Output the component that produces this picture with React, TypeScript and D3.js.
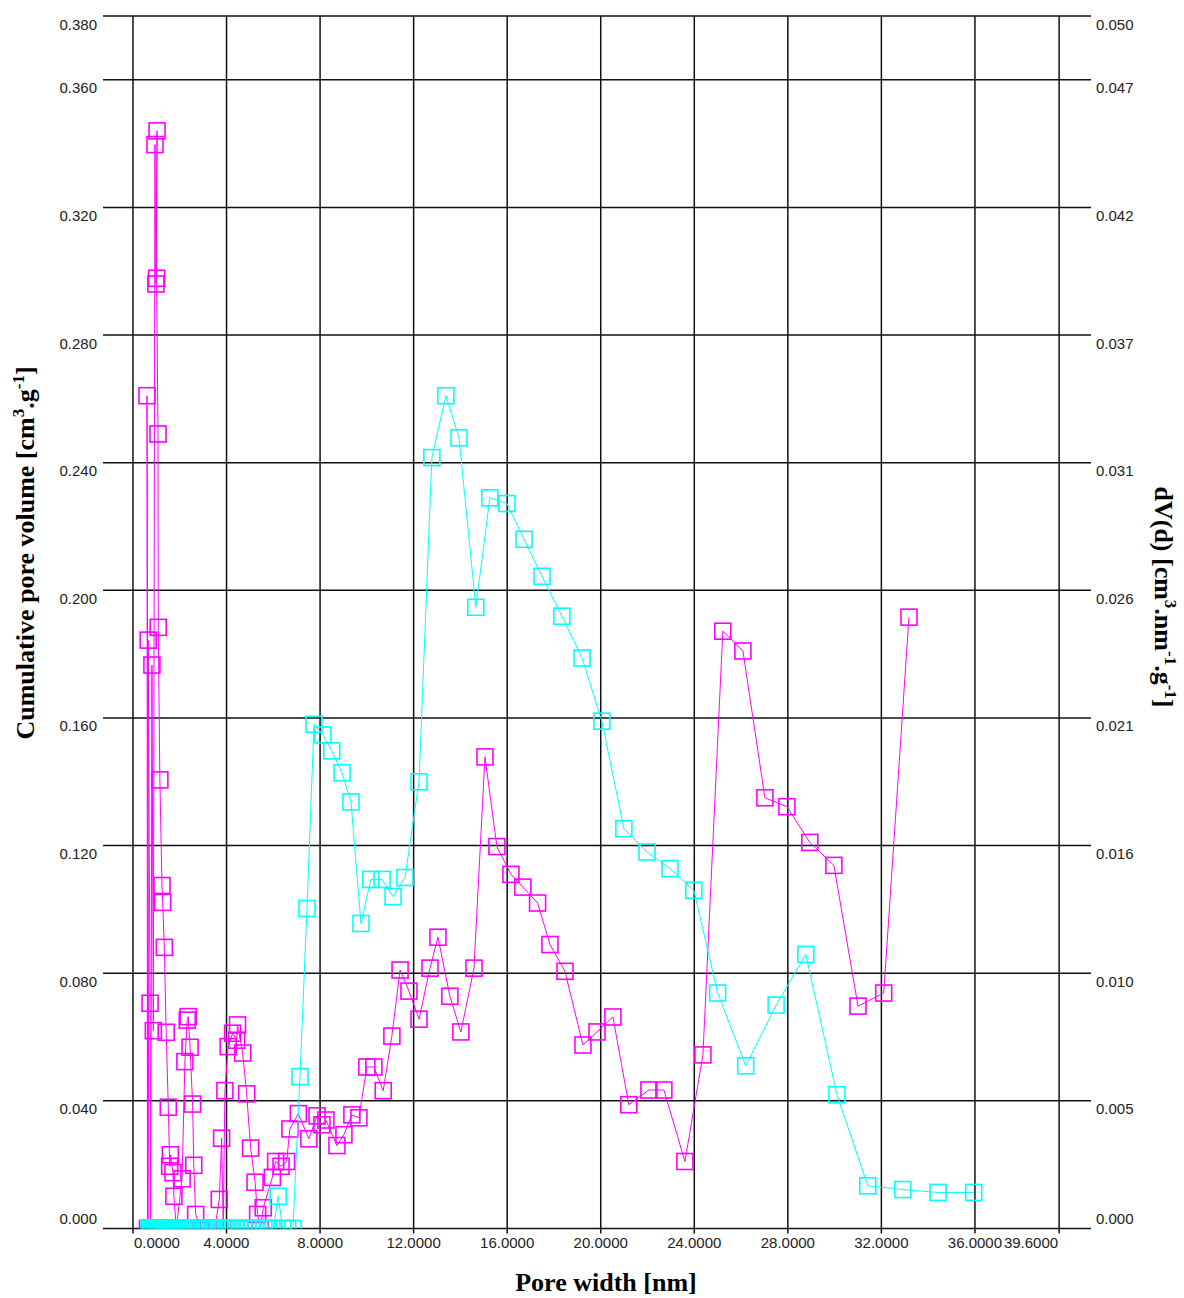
import React from 'react';
import * as d3 from 'd3';

// ---------- data ----------
const xTickValues = [0, 4, 8, 12, 16, 20, 24, 28, 32, 36, 39.6];
const xTickLabels = ['0.0000', '4.0000', '8.0000', '12.0000', '16.0000', '20.0000', '24.0000', '28.0000', '32.0000', '36.0000', '39.6000'];
const yTickValues = [0, 0.04, 0.08, 0.12, 0.16, 0.2, 0.24, 0.28, 0.32, 0.36, 0.38];
const yLeftLabels = ['0.000', '0.040', '0.080', '0.120', '0.160', '0.200', '0.240', '0.280', '0.320', '0.360', '0.380'];
const yRightLabels = ['0.000', '0.005', '0.010', '0.016', '0.021', '0.026', '0.031', '0.037', '0.042', '0.047', '0.050'];

// magenta series (pore width nm, value in left-axis units)
const magentaX = [
  0.68, 0.60, 0.62, 0.65, 0.73, 0.76, 0.81, 0.87, 0.94, 0.98, 1.03, 1.01, 1.07, 1.08, 1.15, 1.24, 1.27, 1.34, 1.42, 1.51,
  1.57, 1.60, 1.71, 1.75, 1.85, 2.10, 2.22, 2.32, 2.36, 2.44, 2.55, 2.60, 2.68, 2.90, 3.20, 3.50, 3.69, 3.79, 3.86, 3.93,
  4.07, 4.26, 4.43, 4.47, 4.69, 4.86, 5.03, 5.22, 5.33, 5.45, 5.57, 5.96, 6.10, 6.33, 6.57, 6.71, 7.07, 7.52, 7.87, 8.08,
  8.25, 8.72, 9.02, 9.36, 9.66, 10.0, 10.3, 10.7, 11.07, 11.42, 11.8, 12.23, 12.7, 13.04, 13.55, 14.02, 14.58, 15.05, 15.56, 16.16,
  16.67, 17.3, 17.83, 18.47, 19.24, 19.84, 20.52, 21.2, 22.06, 22.7, 23.6, 24.37, 25.22, 26.08, 27.02, 27.96, 28.94, 29.97, 31.0, 32.1,
  33.18,
];
const magentaY = [
  0, 0.261, 0, 0.1844, 0.0706, 0, 0.1766, 0.062, 0.3397, 0.296, 0.344, 0.2978, 0.249, 0.1884, 0.1406, 0.1075, 0.1022, 0.0881, 0.0615, 0.038,
  0.0195, 0.0231, 0.0175, 0.0101, 0, 0.0156, 0.0523, 0.0653, 0.0664, 0.0568, 0.039, 0.0198, 0.0044, 0, 0, 0, 0.0091, 0.0283, 0, 0.0432,
  0.057, 0.0612, 0.059, 0.0638, 0.055, 0.0422, 0.0252, 0.0145, 0.0044, 0, 0.0065, 0.016, 0.021, 0.0195, 0.021, 0.0312, 0.036, 0.0281, 0.0353, 0.0325,
  0.034, 0.026, 0.0294, 0.0356, 0.0347, 0.0506, 0.0506, 0.0432, 0.0603, 0.081, 0.0744, 0.0656, 0.0816, 0.0913, 0.0728, 0.0616, 0.0816, 0.1478, 0.1197, 0.111,
  0.107, 0.102, 0.089, 0.0806, 0.0575, 0.0616, 0.0663, 0.0388, 0.0434, 0.0434, 0.021, 0.0544, 0.1872, 0.181, 0.135, 0.1322, 0.121, 0.1138, 0.0697, 0.0738,
  0.1916,
];

// cyan series
const cyanX = [
  0.68, 0.72, 0.76, 0.80, 0.84, 0.88, 0.92, 0.96, 1.00, 1.05, 1.10, 1.15, 1.20, 1.25, 1.30, 1.36, 1.42, 1.48, 1.54, 1.60,
  1.66, 1.72, 1.79, 1.86, 1.93, 2.00, 2.08, 2.16, 2.24, 2.32, 2.40, 2.49, 2.58, 2.67, 2.76, 2.86, 2.96, 3.06, 3.17, 3.28,
  3.39, 3.50, 3.62, 3.74, 3.87, 4.00, 4.14, 4.28, 4.43, 4.58, 4.74, 4.90, 5.07, 5.24, 5.42, 5.60, 5.80, 6.00, 6.21, 6.40,
  6.62, 6.84, 7.14, 7.44, 7.74, 8.12, 8.50, 8.94, 9.32, 9.75, 10.17, 10.65, 11.12, 11.63, 12.23, 12.78, 13.38, 13.94, 14.66, 15.26,
  15.99, 16.72, 17.49, 18.34, 19.20, 20.05, 20.99, 21.98, 22.96, 23.98, 25.0, 26.2, 27.5, 28.77, 30.1, 31.42, 32.92, 34.42, 35.95,
];
const cyanY = [
  0, 0, 0, 0, 0, 0, 0, 0, 0, 0, 0, 0, 0, 0, 0, 0, 0, 0, 0, 0,
  0, 0, 0, 0, 0, 0, 0, 0, 0, 0, 0, 0, 0, 0, 0, 0, 0, 0, 0, 0,
  0, 0, 0, 0, 0, 0, 0, 0, 0, 0, 0, 0, 0, 0, 0, 0, 0, 0, 0.0101, 0,
  0, 0, 0.0476, 0.1003, 0.158, 0.1547, 0.1497, 0.1428, 0.1337, 0.0956, 0.1094, 0.1094, 0.104, 0.11, 0.14, 0.2416, 0.261, 0.2478, 0.1947, 0.229,
  0.2272, 0.216, 0.2044, 0.1919, 0.1788, 0.159, 0.1253, 0.118, 0.1128, 0.106, 0.0738, 0.051, 0.07, 0.0859, 0.0419, 0.0134, 0.0122, 0.0113, 0.0113,
];

// ---------- layout ----------
const W = 1184;
const H = 1298;
const PL = 103;
const PR = 1091;
const PT = 16;
const PB = 1228.5;

const x = d3.scaleLinear().domain([-1.282, 40.92]).range([PL, 1090]);
const y = d3.scaleLinear().domain([0, 0.38]).range([PB, PT]);

const MAG = '#ff00ff';
const CYA = '#00ffff';
const MS = 16;

const tickFont = 'Liberation Sans, Arial, sans-serif';
const titleFont = 'Liberation Serif, Times New Roman, serif';

function Series({ xs, ys, color }: { xs: number[]; ys: number[]; color: string }) {
  const pts: [number, number][] = xs.map((v, i) => [v, ys[i]]);
  const line = d3.line<[number, number]>().x((d) => x(d[0])).y((d) => y(d[1]));
  return (
    <g>
      <path d={line(pts) || ''} fill="none" stroke={color} strokeWidth={1} />
      {pts.map((d, i) => (
        <rect
          key={i}
          x={x(d[0]) - MS / 2}
          y={y(d[1]) - MS / 2}
          width={MS}
          height={MS}
          fill="none"
          stroke={color}
          strokeWidth={1.6}
        />
      ))}
    </g>
  );
}

export default function App() {
  const lastIdx = xTickValues.length - 1;
  return (
    <svg
      width={W}
      height={H}
      style={{ position: 'absolute', left: 0, top: 0, background: '#fff' }}
      xmlns="http://www.w3.org/2000/svg"
    >
      <defs>
        <clipPath id="plotClip">
          <rect x={PL} y={0} width={PR - PL} height={PB} />
        </clipPath>
      </defs>
      <rect x={0} y={0} width={W} height={H} fill="#fff" />

      {/* horizontal grid */}
      {yTickValues.map((v, i) => (
        <line key={'h' + i} x1={PL} x2={PR} y1={y(v)} y2={y(v)} stroke="#111" strokeWidth={1.5} />
      ))}
      {/* vertical grid */}
      {xTickValues.map((v, i) => (
        <line key={'v' + i} x1={x(v)} x2={x(v)} y1={PT} y2={PB + 5} stroke="#111" strokeWidth={1.5} />
      ))}

      {/* left labels */}
      {yTickValues.map((v, i) => (
        <text
          key={'ll' + i}
          x={97}
          y={v === 0 ? y(v) - 10 : y(v) + 8}
          textAnchor="end"
          dominantBaseline="central"
          fontFamily={tickFont}
          fontSize={15}
          fill="#222"
        >
          {yLeftLabels[i]}
        </text>
      ))}
      {/* right labels */}
      {yTickValues.map((v, i) => (
        <text
          key={'rl' + i}
          x={1096}
          y={v === 0 ? y(v) - 10 : y(v) + 8}
          textAnchor="start"
          dominantBaseline="central"
          fontFamily={tickFont}
          fontSize={15}
          fill="#222"
        >
          {yRightLabels[i]}
        </text>
      ))}
      {/* x labels */}
      {xTickValues.map((v, i) => (
        <text
          key={'xl' + i}
          x={i === 0 ? x(v) + 1 : i === lastIdx ? x(v) - 1 : x(v)}
          y={1242}
          textAnchor={i === 0 ? 'start' : i === lastIdx ? 'end' : 'middle'}
          dominantBaseline="central"
          fontFamily={tickFont}
          fontSize={15}
          fill="#222"
        >
          {xTickLabels[i]}
        </text>
      ))}

      {/* series */}
      <g clipPath="url(#plotClip)">
        <Series xs={magentaX} ys={magentaY} color={MAG} />
        <Series xs={cyanX} ys={cyanY} color={CYA} />
      </g>

      {/* axis titles */}
      <text x={606} y={1291} textAnchor="middle" fontFamily={titleFont} fontWeight="bold" fontSize={26} fill="#000">
        Pore width [nm]
      </text>
      <text
        transform="translate(34,553) rotate(-90)"
        textAnchor="middle"
        fontFamily={titleFont}
        fontWeight="bold"
        fontSize={26}
        fill="#000"
      >
        Cumulative pore volume [cm
        <tspan fontSize={17} dy={-10}>3</tspan>
        <tspan dy={10}>.g</tspan>
        <tspan fontSize={17} dy={-10}>-1</tspan>
        <tspan dy={10}>]</tspan>
      </text>
      <text
        transform="translate(1155,597) rotate(90)"
        textAnchor="middle"
        fontFamily={titleFont}
        fontWeight="bold"
        fontSize={26}
        fill="#000"
      >
        dV(d) [cm
        <tspan fontSize={17} dy={-10}>3</tspan>
        <tspan dy={10}>.nm</tspan>
        <tspan fontSize={17} dy={-10}>-1</tspan>
        <tspan dy={10}>.g</tspan>
        <tspan fontSize={17} dy={-10}>-1</tspan>
        <tspan dy={10}>]</tspan>
      </text>
    </svg>
  );
}
